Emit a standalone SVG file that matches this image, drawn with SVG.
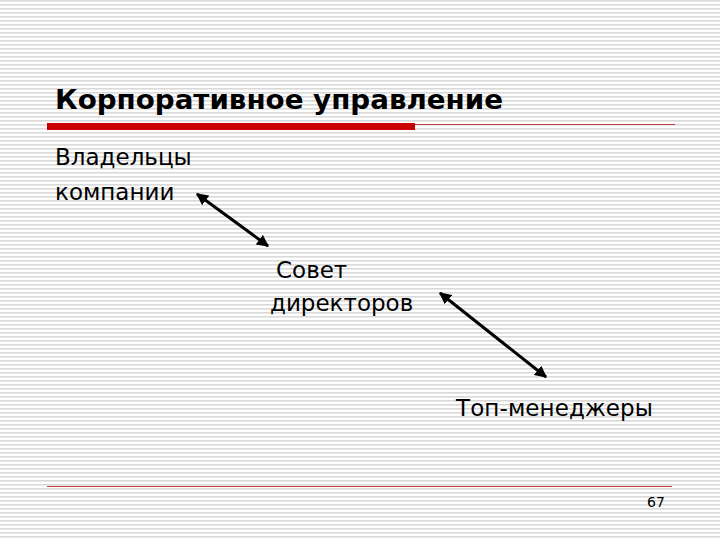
<svg xmlns="http://www.w3.org/2000/svg" width="720" height="540" viewBox="0 0 720 540">
<defs>
<pattern id="st" width="8" height="4" patternUnits="userSpaceOnUse"><rect width="8" height="4" fill="#fff"/><rect width="8" height="1.6" fill="#d9d9d9"/></pattern>
<marker id="a" viewBox="0 0 10 10" refX="9" refY="5" markerWidth="4" markerHeight="4" orient="auto-start-reverse"><path d="M0,0 L10,5 L0,10 z" fill="#000"/></marker>
<style>.t{font-family:"DejaVu Sans",Verdana,sans-serif;font-size:23px;fill:#000}</style>
</defs>
<rect width="720" height="540" fill="url(#st)"/>
<text x="55" y="109" class="t" style="font-weight:bold;font-size:27px" textLength="448" lengthAdjust="spacingAndGlyphs">Корпоративное управление</text>
<rect x="47" y="123" width="368" height="7" fill="#cc0000"/>
<line x1="415" y1="124.5" x2="675" y2="124.5" stroke="#c04040" stroke-width="1"/>
<line x1="47" y1="486.5" x2="672" y2="486.5" stroke="#c04040" stroke-width="1"/>
<g id="n1"><text x="55" y="165" class="t">Владельцы</text><text x="55" y="200" class="t">компании</text></g>
<g id="n2"><text x="276" y="278" class="t">Совет</text><text x="270" y="311" class="t">директоров</text></g>
<g id="n3"><text x="456" y="416" class="t" textLength="197">Топ-менеджеры</text></g>
<g id="edges" stroke="#000" stroke-width="3">
<line x1="197" y1="194" x2="268" y2="246" marker-start="url(#a)" marker-end="url(#a)"/>
<line x1="440" y1="293" x2="546" y2="377" marker-start="url(#a)" marker-end="url(#a)"/>
</g>
<text x="656" y="507" style="font-family:'DejaVu Sans',sans-serif;font-size:14px" text-anchor="middle">67</text>
</svg>
